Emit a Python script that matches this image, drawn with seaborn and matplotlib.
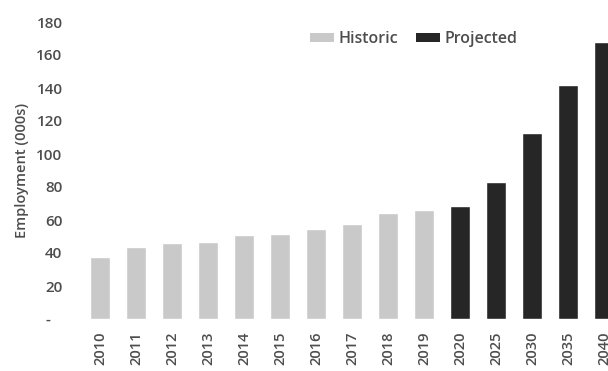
import matplotlib
matplotlib.use("Agg")
import matplotlib.pyplot as plt
import matplotlib.ticker as mticker
from matplotlib.patches import Patch
import pandas as pd
import seaborn as sns

# Employment by year (thousands)
years = ["2010", "2011", "2012", "2013", "2014", "2015", "2016", "2017",
         "2018", "2019", "2020", "2025", "2030", "2035", "2040"]
employment = [37.5, 43.5, 46, 46.5, 51, 51.3, 54.7, 57.3,
              64.3, 65.8, 68.7, 83.2, 112.5, 141.8, 168]
period = ["Historic"] * 10 + ["Projected"] * 5
ytick_values = [0, 20, 40, 60, 80, 100, 120, 140, 160, 180]

colors = {"Historic": "#c9c9c9", "Projected": "#262626"}
text_color = "#4d4d4d"

df = pd.DataFrame({"Year": years, "Employment": employment, "Period": period})

sns.set_theme(style="white")
plt.rcParams["font.family"] = ["Open Sans", "DejaVu Sans"]
plt.rcParams["font.weight"] = "semibold"

fig = plt.figure(figsize=(6.08, 3.71), dpi=100)
ax = fig.add_axes([82 / 608, 52 / 371, (608 - 82) / 608, 297 / 371])

sns.barplot(data=df, x="Year", y="Employment", hue="Period", palette=colors,
            dodge=False, width=0.54, saturation=1, legend=False, ax=ax)

ax.set_xlim(-0.5, (608 - 100) / 36)
ax.set_ylim(0, 180)
ax.set_yticks(ytick_values)
ax.yaxis.set_major_formatter(
    mticker.FuncFormatter(lambda v, _: "-   " if v == 0 else f"{v:.0f}"))

ax.tick_params(axis="y", length=0, pad=14, labelsize=11, labelcolor=text_color)
ax.tick_params(axis="x", length=0, pad=9, labelsize=10.5, labelcolor=text_color,
               labelrotation=90)
for lab in ax.get_xticklabels() + ax.get_yticklabels():
    lab.set_fontweight("semibold")
ax.set_xlabel("")
ax.set_ylabel("Employment (000s)", fontsize=10.5, color=text_color,
              fontweight="semibold", labelpad=5)
for side in ax.spines.values():
    side.set_visible(False)

handles = [Patch(facecolor=colors[k], edgecolor="none", label=k)
           for k in ["Historic", "Projected"]]
fig.legend(handles=handles, ncol=2, frameon=False, loc="center",
           bbox_to_anchor=(414 / 608, 1 - 39 / 371),
           prop={"size": 11.5, "weight": "semibold"},
           labelcolor=text_color, handlelength=1.5, handleheight=0.45,
           handletextpad=0.3, columnspacing=1.1)

fig.savefig("out.png", dpi=100)
